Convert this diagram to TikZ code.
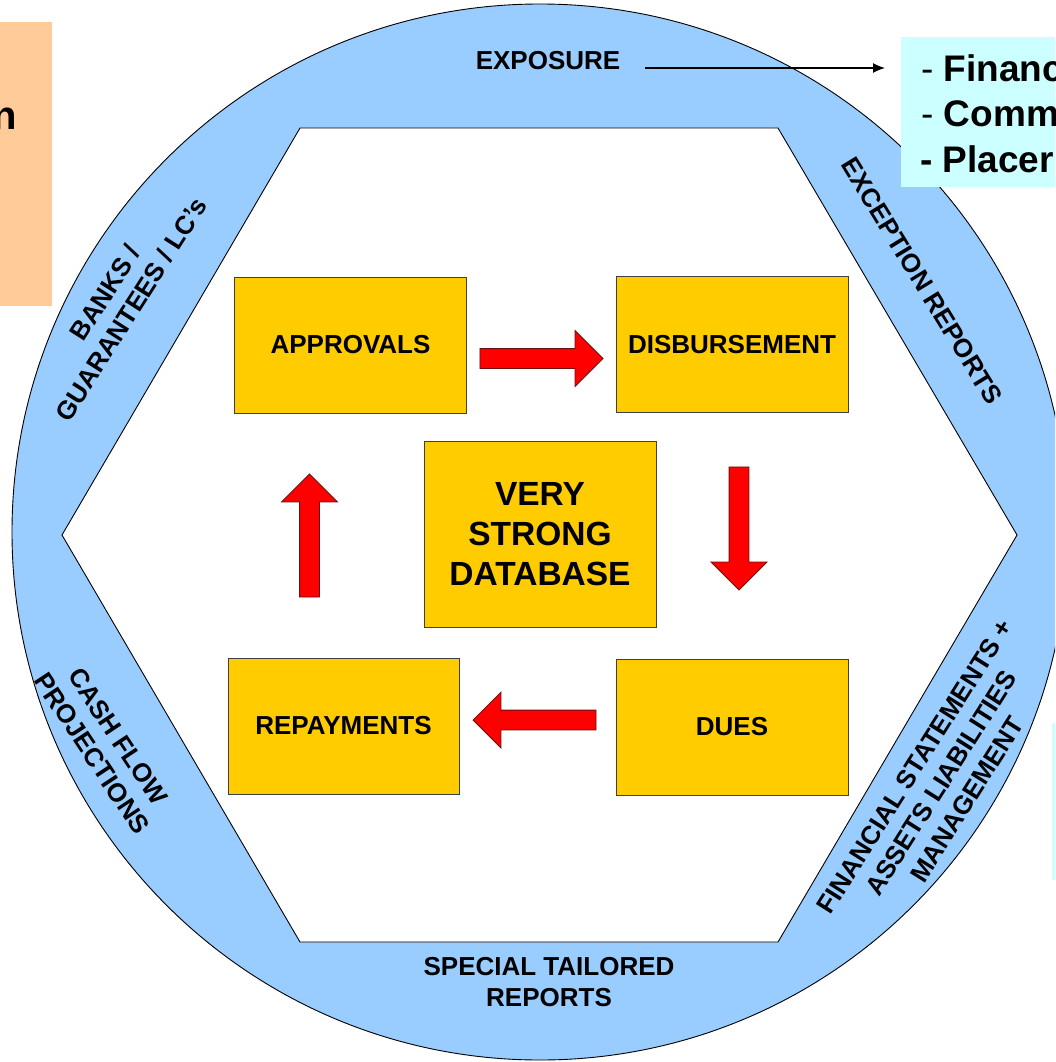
\documentclass[tikz,border=0pt]{standalone}
\usepackage{fontspec}
\setmainfont{Liberation Sans}
\usetikzlibrary{shapes.arrows,arrows.meta}

\definecolor{ringblue}{HTML}{99CCFF}
\definecolor{boxyellow}{HTML}{FFCC00}
\definecolor{notecyan}{HTML}{CCFFFF}
\definecolor{noteorange}{HTML}{FFCC99}
\definecolor{flowedge}{HTML}{6A1010}

\tikzset{
  stage/.style={draw=black!75, line width=0.9pt, fill=boxyellow,
    minimum width=232pt, minimum height=136pt, inner sep=0pt, outer sep=0pt,
    font=\fontsize{26}{31}\selectfont\bfseries, align=center},
  flow/.style={single arrow, draw=flowedge, line width=0.8pt, fill=red,
    inner sep=9.5pt, outer sep=0pt, single arrow head extend=18pt,
    single arrow tip angle=90, minimum height=123pt, minimum width=55pt},
  ringlabel/.style={font=\fontsize{26}{31}\selectfont\bfseries,
    align=center, inner sep=0pt},
  notetext/.style={font=\fontsize{37}{45}\selectfont\bfseries,
    anchor=base west, inner sep=0pt},
  panel/.style={inner sep=0pt, outer sep=0pt, anchor=north west},
}

\begin{document}
\begin{tikzpicture}[x=1pt, y=-1pt]
  \useasboundingbox (0,0) rectangle (1055,1062);
  \clip (0,0) rectangle (1055,1062);
  \fill[white] (0,0) rectangle (1055,1062);

  % side panel on the left
  \node[panel, fill=noteorange, minimum width=52pt, minimum height=284pt] (leftnote) at (0,22) {};
  \node[anchor=base east, inner sep=0pt, font=\fontsize{40}{48}\selectfont\bfseries] (leftfrag) at (17.5,130) {n};

  % outer ring and inner hexagon
  \draw[line width=0.9pt, fill=ringblue] (540,532) circle[radius=528pt];
  \draw[line width=0.9pt, fill=white]
    (300,128) -- (778,128) -- (1017,535) -- (778,942) -- (300,942) -- (62,535) -- cycle;

  % exposure notes
  \node[panel, fill=notecyan, minimum width=170pt, minimum height=150pt] (notes) at (901,37) {};
  \node[notetext] (note1) at (921,82) {\textmd{-} Financ};
  \node[notetext] (note2) at (921,127) {\textmd{-} Comm};
  \node[notetext] (note3) at (920,172) {- Placer};
  \node[panel, fill=notecyan, minimum width=20pt, minimum height=157pt] (notes2) at (1052,723) {};

  % labels around the ring
  \node[ringlabel] (expo) at (548,61) {EXPOSURE};
  \coordinate (exptail) at (645,68);
  \draw[line width=1.3pt, -{Latex[length=12pt,width=10pt]}, shorten >=16pt]
    (exptail) -- (exptail -| notes.west);

  \node[ringlabel, rotate=57.5] (banks) at (118,301) {BANKS /\\GUARANTEES / LC’s};
  \node[ringlabel, rotate=-58.5] (excep) at (922,281) {EXCEPTION REPORTS};
  \node[ringlabel, rotate=57.7] (finst) at (941,783)
    {FINANCIAL STATEMENTS +\\ASSETS LIABILITIES\\MANAGEMENT};
  \node[ringlabel, rotate=-56.5] (cashf) at (105,745) {CASH FLOW\\PROJECTIONS};
  \node[ringlabel] (special) at (549,982) {SPECIAL TAILORED\\REPORTS};

  % process boxes
  \node[stage] (appr) at (350.5,345) {APPROVALS};
  \node[stage] (disb) at (732,344.5) {DISBURSEMENT};
  \node[stage, minimum height=186pt, font=\fontsize{33.5}{40}\selectfont\bfseries]
    (db) at (540,534) {VERY\\STRONG\\DATABASE};
  \node[stage] (dues) at (732,727) {DUES};
  \node[stage, minimum width=231pt] (repay) at (343.5,726) {REPAYMENTS};

  % cycle arrows
  \node[flow] (a1) at (536.5,358.5) {};
  \node[flow, rotate=-90] (a2) at (739,523.5) {};
  \node[flow, rotate=180] (a3) at (539.5,720) {};
  \node[flow, rotate=90] (a4) at (309.5,540.5) {};
\end{tikzpicture}
\end{document}
